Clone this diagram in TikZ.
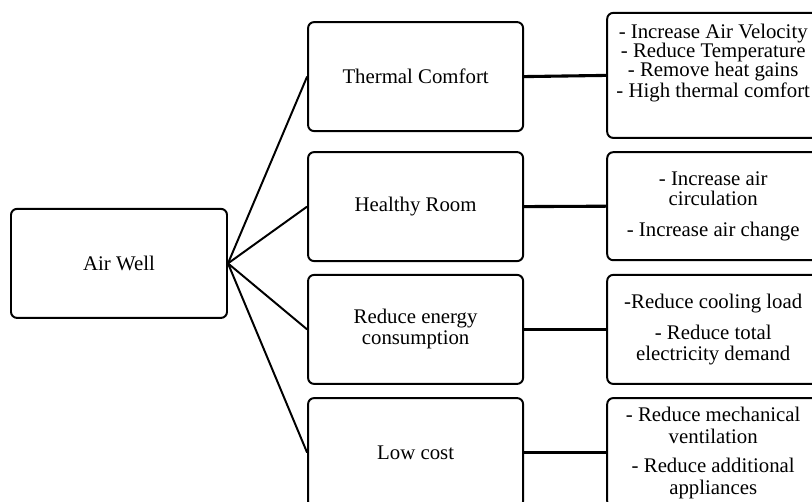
\documentclass[tikz,border=0pt]{standalone}
\usepackage{fontspec}
\setmainfont{Liberation Serif}
\usetikzlibrary{positioning}
\tikzset{
  box/.style    = {draw, rounded corners=0.15cm, line width=1.4pt, align=center,
                   inner sep=0pt, minimum height=2.725cm,
                   font=\fontsize{14.8}{15}\selectfont},
  rootbox/.style = {box, minimum width=5.4cm},
  topicbox/.style = {box, minimum width=5.375cm},
  listbox/.style = {box, minimum width=5.3cm},
  branch/.style = {line width=1.4pt},
  link/.style   = {line width=2.2pt}
}

\begin{document}
\begin{tikzpicture}
	\useasboundingbox (0,0) rectangle (20.3,12.525);
	\node[rootbox] (W) at (2.975,5.94) {Air Well};
	\node[topicbox] (TC) at (10.39,10.61) {Thermal Comfort};
	\node[topicbox] (HR) at (10.39,7.36) {Healthy Room};
	\node[topicbox] (RE) at (10.39,4.29) {Reduce energy\\consumption};
	\node[topicbox] (LC) at (10.39,1.21) {Low cost};
	\node[listbox, minimum height=3.125cm, font=\fontsize{14.8}{13.6}\selectfont] (TCl) at (17.83,10.64)
		{- Increase Air Velocity\\- Reduce Temperature\\- Remove heat gains\\- High thermal comfort\\[0.26cm]\mbox{}};
	\node[listbox, minimum height=2.7cm, font=\fontsize{14.8}{14.2}\selectfont] (HRl) at (17.83,7.37)
		{- Increase air\\circulation\\[0.28cm]- Increase air change};
	\node[listbox, font=\fontsize{14.8}{14.8}\selectfont] (REl) at (17.83,4.29)
		{-Reduce cooling load\\[0.27cm]- Reduce total\\electricity demand};
	\node[listbox, font=\fontsize{14.8}{15.6}\selectfont] (LCl) at (17.83,1.21)
		{- Reduce mechanical\\ventilation\\[0.18cm]- Reduce additional\\appliances};
	\draw[branch] (W.east) -- (TC.west);
	\draw[branch] (W.east) -- (HR.west);
	\draw[branch] (W.east) -- (RE.west);
	\draw[branch] (W.east) -- (LC.west);
	\draw[link] (TC.east) -- (TCl.west);
	\draw[link] (HR.east) -- (HRl.west);
	\draw[link] (RE.east) -- (REl.west);
	\draw[link] (LC.east) -- (LCl.west);
\end{tikzpicture}
\end{document}
